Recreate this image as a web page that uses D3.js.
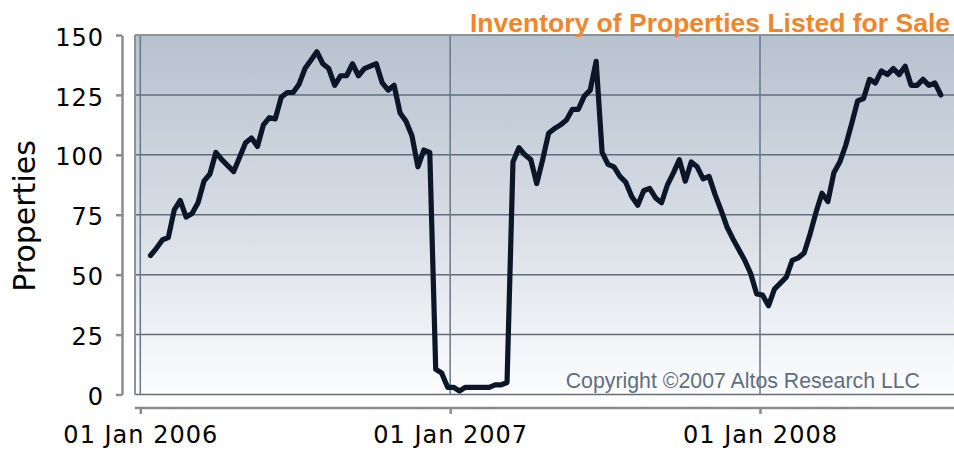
<!DOCTYPE html>
<html>
<head>
<meta charset="utf-8">
<script src="https://cdn.jsdelivr.net/npm/d3@7"></script>
<style>
  html, body { margin: 0; padding: 0; background: #ffffff; }
  svg { display: block; }
</style>
</head>
<body>
<svg id="chart" width="954" height="452"></svg>
<script>
// ---- data ----
const titleText = "Inventory of Properties Listed for Sale";
const copyrightText = "Copyright \u00A92007 Altos Research LLC";
const yAxisLabel = "Properties";
const firstWeek = "2006-01-13";          // first weekly observation
const yTicks = [0, 25, 50, 75, 100, 125, 150];
const xTickYears = ["2006-01-01", "2007-01-01", "2008-01-01"];
// weekly inventory counts, one per week starting at firstWeek
const inventory = [
  58, 61, 64.5, 65.5, 77, 81, 74, 75.5, 80, 89,
  92, 101, 98, 95.5, 93, 99, 105, 107, 103.5, 112.5,
  115.5, 115, 124, 126, 126, 129.5, 136, 139.5, 143, 138,
  136, 129, 133, 133, 138, 133, 136, 137, 138, 130,
  127, 129, 117.5, 114, 108, 95, 102, 101, 10.5, 9,
  3, 3, 1.5, 3, 3, 3, 3, 3, 4, 4,
  5, 97, 103, 100, 98, 88, 98, 109, 111, 112.5,
  114.5, 119, 119, 124.5, 127, 139, 101, 96, 95, 91,
  88.5, 82.5, 79, 85, 86, 82, 80, 87.5, 92.5, 98,
  89, 97, 95, 90, 91, 83.5, 77, 70, 65, 60.5,
  56, 50.5, 42, 41.5, 37, 44, 46.5, 49, 56, 57,
  59, 67, 76, 84, 80.5, 92.5, 97, 104, 113, 122.5,
  123.5, 131.5, 130, 135, 133.5, 136, 133.5, 137, 129, 129,
  131.5, 129, 130, 125
];

// ---- build ----
const parse = d3.utcParse("%Y-%m-%d");
const start = parse(firstWeek);
const series = inventory.map((v, i) => ({ date: d3.utcWeek.offset(start, i), value: v }));
const yearDates = xTickYears.map(parse);

const svg = d3.select("#chart");
const W = 954, H = 452;
const plot = { left: 135, right: 954, top: 35, bottom: 394.5 };

const x = d3.scaleUtc().domain([yearDates[0], yearDates[2]]).range([140.3, 760]);
const y = d3.scaleLinear().domain([0, 150]).range([plot.bottom, plot.top]);

// background gradient
const defs = svg.append("defs");
const grad = defs.append("linearGradient").attr("id", "bg").attr("x1", 0).attr("y1", 0).attr("x2", 0).attr("y2", 1);
grad.append("stop").attr("offset", "0%").attr("stop-color", "#b7c2cf");
grad.append("stop").attr("offset", "50%").attr("stop-color", "#d6dce4");
grad.append("stop").attr("offset", "100%").attr("stop-color", "#fdfdfe");

svg.append("rect")
  .attr("x", plot.left).attr("y", plot.top)
  .attr("width", plot.right - plot.left).attr("height", plot.bottom - plot.top)
  .attr("fill", "url(#bg)");

// copyright (under grid)
svg.append("text")
  .attr("x", 920).attr("y", 387.5)
  .attr("text-anchor", "end")
  .attr("font-family", "'Liberation Sans', Arial, sans-serif")
  .attr("font-size", 21.3)
  .attr("fill", "#5e6e80")
  .text(copyrightText);

// horizontal grid
svg.append("g").selectAll("line").data(yTicks).join("line")
  .attr("x1", plot.left).attr("x2", plot.right)
  .attr("y1", d => y(d)).attr("y2", d => y(d))
  .attr("stroke", "#5f6e7e").attr("stroke-width", 1.5);

// vertical grid
svg.append("g").selectAll("line").data(yearDates).join("line")
  .attr("x1", d => x(d)).attr("x2", d => x(d))
  .attr("y1", plot.top).attr("y2", plot.bottom)
  .attr("stroke", "#66778a").attr("stroke-width", 1.5);

// plot borders (left + top)
svg.append("line").attr("x1", plot.left).attr("x2", plot.left).attr("y1", plot.top).attr("y2", plot.bottom)
  .attr("stroke", "#8a929b").attr("stroke-width", 2);
svg.append("line").attr("x1", plot.left).attr("x2", plot.right).attr("y1", plot.top).attr("y2", plot.top)
  .attr("stroke", "#8a929b").attr("stroke-width", 2);

// data line
svg.append("path")
  .datum(series)
  .attr("fill", "none")
  .attr("stroke", "#0b1628")
  .attr("stroke-width", 5.2)
  .attr("stroke-linejoin", "round")
  .attr("stroke-linecap", "round")
  .attr("d", d3.line().x(d => x(d.date)).y(d => y(d.value)));

// y axis
const yAxis = svg.append("g").attr("transform", "translate(122,0)")
  .call(d3.axisLeft(y).tickValues(yTicks).tickSize(6).tickSizeOuter(0).tickPadding(12).tickFormat(d3.format("d")));
yAxis.select(".domain").attr("stroke", "#8c8c8c").attr("stroke-width", 2.5);
yAxis.selectAll(".tick line").attr("stroke", "#8c8c8c").attr("stroke-width", 2.5);
yAxis.selectAll(".tick text")
  .attr("font-family", "'DejaVu Sans', sans-serif").attr("font-size", 24)
  .attr("letter-spacing", "1px").attr("fill", "#000").attr("dy", "0.42em");

// x axis
const xAxis = svg.append("g").attr("transform", "translate(0,408)")
  .call(d3.axisBottom(x).tickValues(yearDates).tickSize(6).tickSizeOuter(0).tickPadding(12).tickFormat(d3.utcFormat("01 Jan %Y")));
xAxis.select(".domain").remove();
xAxis.insert("line", ":first-child").attr("x1", plot.left).attr("x2", W).attr("y1", 0).attr("y2", 0)
  .attr("stroke", "#8c8c8c").attr("stroke-width", 2.5);
xAxis.selectAll(".tick line").attr("stroke", "#8c8c8c").attr("stroke-width", 2.5);
xAxis.selectAll(".tick text")
  .attr("font-family", "'DejaVu Sans', sans-serif").attr("font-size", 24)
  .attr("letter-spacing", "1px").attr("fill", "#000");

// y label
svg.append("text")
  .attr("transform", "translate(35,216) rotate(-90)")
  .attr("text-anchor", "middle")
  .attr("font-family", "'DejaVu Sans', sans-serif")
  .attr("font-size", 30)
  .attr("fill", "#000")
  .text(yAxisLabel);

// title
svg.append("text")
  .attr("x", 950).attr("y", 31.5)
  .attr("text-anchor", "end")
  .attr("font-family", "'Liberation Sans', Arial, sans-serif")
  .attr("font-weight", "bold")
  .attr("font-size", 26.5)
  .attr("fill", "#f0862c")
  .text(titleText);
</script>
</body>
</html>
